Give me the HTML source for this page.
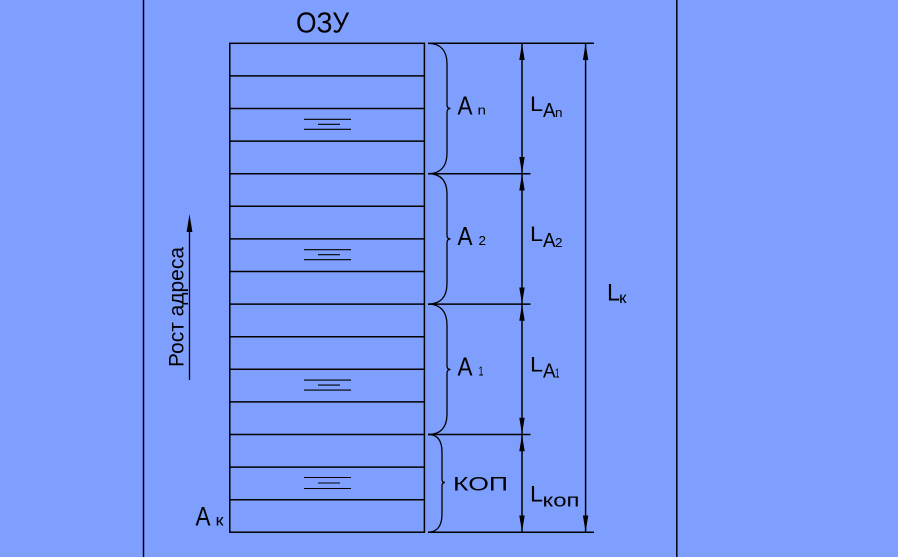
<!DOCTYPE html>
<html><head><meta charset="utf-8"><style>
html,body{margin:0;padding:0;background:#7f9ffe;}
svg{display:block;}
text{font-family:"Liberation Sans","DejaVu Sans",sans-serif;fill:#000;}
</style></head><body>
<svg width="898" height="557" viewBox="0 0 898 557" xmlns="http://www.w3.org/2000/svg">
<rect width="898" height="557" fill="#7f9ffe"/>
<!-- page vertical lines -->
<line x1="143.5" y1="0" x2="143.5" y2="557" stroke="#000010" stroke-width="1.5"/>
<line x1="676.8" y1="0" x2="676.8" y2="557" stroke="#000010" stroke-width="1.5"/>

<!-- memory box -->
<g stroke="#000" stroke-width="1.5" fill="none">
<rect x="229.8" y="43.3" width="194.6" height="488.9"/>
<line x1="229.8" y1="75.9" x2="424.4" y2="75.9"/>
<line x1="229.8" y1="108.5" x2="424.4" y2="108.5"/>
<line x1="229.8" y1="141.1" x2="424.4" y2="141.1"/>
<line x1="229.8" y1="173.7" x2="424.4" y2="173.7"/>
<line x1="229.8" y1="206.3" x2="424.4" y2="206.3"/>
<line x1="229.8" y1="238.9" x2="424.4" y2="238.9"/>
<line x1="229.8" y1="271.5" x2="424.4" y2="271.5"/>
<line x1="229.8" y1="304.1" x2="424.4" y2="304.1"/>
<line x1="229.8" y1="336.7" x2="424.4" y2="336.7"/>
<line x1="229.8" y1="369.3" x2="424.4" y2="369.3"/>
<line x1="229.8" y1="401.9" x2="424.4" y2="401.9"/>
<line x1="229.8" y1="434.5" x2="424.4" y2="434.5"/>
<line x1="229.8" y1="467.1" x2="424.4" y2="467.1"/>
<line x1="229.8" y1="499.7" x2="424.4" y2="499.7"/>
</g>

<!-- equal marks -->
<g stroke="#000" stroke-width="1.1">
<line x1="304" y1="119.3" x2="351" y2="119.3"/><line x1="318" y1="124.3" x2="340" y2="124.3"/><line x1="304" y1="129.3" x2="351" y2="129.3"/>
<line x1="304" y1="249.7" x2="351" y2="249.7"/><line x1="318" y1="254.7" x2="340" y2="254.7"/><line x1="304" y1="259.7" x2="351" y2="259.7"/>
<line x1="304" y1="380.1" x2="351" y2="380.1"/><line x1="318" y1="385.1" x2="340" y2="385.1"/><line x1="304" y1="390.1" x2="351" y2="390.1"/>
<line x1="304" y1="477.5" x2="351" y2="477.5"/><line x1="318" y1="483" x2="340" y2="483"/><line x1="304" y1="488.5" x2="351" y2="488.5"/>
</g>

<!-- extension lines -->
<g stroke="#000" stroke-width="1.5">
<line x1="428" y1="43.3" x2="594" y2="43.3"/>
<line x1="428" y1="173.7" x2="530.5" y2="173.7"/>
<line x1="428" y1="304.1" x2="530.5" y2="304.1"/>
<line x1="428" y1="434.5" x2="530.5" y2="434.5"/>
<line x1="428" y1="532.2" x2="594" y2="532.2"/>
<!-- dimension lines -->
<line x1="522" y1="43.3" x2="522" y2="532.2"/>
<line x1="585.6" y1="43.3" x2="585.6" y2="532.2"/>
</g>

<!-- braces -->
<g stroke="#000" stroke-width="1.3" fill="none">
<path d="M428,43.3 C440,43.3 447,50 447,64 L447,105 Q447,108.5 450.5,108.5 Q447,108.5 447,112 L447,153 C447,167 440,173.7 428,173.7"/>
<path d="M428,173.7 C440,173.7 447,180 447,194 L447,235.5 Q447,239 450.5,239 Q447,239 447,242.5 L447,283.5 C447,297.5 440,304.1 428,304.1"/>
<path d="M428,304.1 C440,304.1 447,311 447,325 L447,366 Q447,369.5 450.5,369.5 Q447,369.5 447,373 L447,414 C447,428 440,434.5 428,434.5"/>
<path d="M428,434.5 C437,434.5 442,440 442,452 L442,479.5 Q442,482.5 445,482.5 Q442,482.5 442,485.5 L442,514 C442,526 437,532.2 428,532.2"/>
</g>

<!-- arrowheads -->
<g fill="#000">
<polygon points="522,43.5 519.3,60 524.7,60"/>
<polygon points="522,173.5 519.3,157 524.7,157"/>
<polygon points="522,174 519.3,190.5 524.7,190.5"/>
<polygon points="522,304 519.3,287.5 524.7,287.5"/>
<polygon points="522,304.3 519.3,320.8 524.7,320.8"/>
<polygon points="522,434.3 519.3,417.8 524.7,417.8"/>
<polygon points="522,434.7 519.3,451.2 524.7,451.2"/>
<polygon points="522,532 519.3,515.5 524.7,515.5"/>
<polygon points="585.6,43.5 582.9,60 588.3,60"/>
<polygon points="585.6,532 582.9,515.5 588.3,515.5"/>
<!-- Рост адреса arrow -->
<polygon points="189.5,214 186.6,232 192.4,232"/>
</g>
<line x1="189.5" y1="228" x2="189.5" y2="380" stroke="#000" stroke-width="1.3"/>

<!-- texts -->
<text x="296" y="32.3" font-size="29" textLength="53" lengthAdjust="spacingAndGlyphs">ОЗУ</text>

<text transform="translate(183.5,367) rotate(-90)" font-size="21.5" textLength="120" lengthAdjust="spacingAndGlyphs">Рост адреса</text>

<text x="457.5" y="114.3" font-size="26" textLength="15" lengthAdjust="spacingAndGlyphs">A</text>
<text x="477.5" y="114.3" font-size="13" textLength="8.5" lengthAdjust="spacingAndGlyphs">n</text>

<text x="457.5" y="245" font-size="26" textLength="15" lengthAdjust="spacingAndGlyphs">A</text>
<text x="478.5" y="245" font-size="12.5" textLength="7.5" lengthAdjust="spacingAndGlyphs">2</text>

<text x="457.5" y="375.7" font-size="26" textLength="15" lengthAdjust="spacingAndGlyphs">A</text>
<text x="478.5" y="375.7" font-size="12.5" textLength="5" lengthAdjust="spacingAndGlyphs">1</text>

<text x="453" y="490.7" font-size="19.5" textLength="55" lengthAdjust="spacingAndGlyphs">КОП</text>

<text x="195.5" y="525.7" font-size="27" textLength="15" lengthAdjust="spacingAndGlyphs">A</text>
<text x="215.5" y="525.7" font-size="16" textLength="8" lengthAdjust="spacingAndGlyphs">к</text>

<text x="530" y="111" font-size="21" textLength="13" lengthAdjust="spacingAndGlyphs">L</text>
<text x="543" y="117" font-size="20" textLength="12.5" lengthAdjust="spacingAndGlyphs">A</text>
<text x="555" y="117" font-size="13" textLength="7.5" lengthAdjust="spacingAndGlyphs">n</text>

<text x="530" y="241" font-size="21" textLength="13" lengthAdjust="spacingAndGlyphs">L</text>
<text x="543" y="247" font-size="20" textLength="12.5" lengthAdjust="spacingAndGlyphs">A</text>
<text x="555" y="247" font-size="12.5" textLength="7.5" lengthAdjust="spacingAndGlyphs">2</text>

<text x="530" y="371.5" font-size="21" textLength="13" lengthAdjust="spacingAndGlyphs">L</text>
<text x="543" y="377.5" font-size="20" textLength="12.5" lengthAdjust="spacingAndGlyphs">A</text>
<text x="555" y="377.5" font-size="12.5" textLength="4.5" lengthAdjust="spacingAndGlyphs">1</text>

<text x="530" y="501.7" font-size="22" textLength="13" lengthAdjust="spacingAndGlyphs">L</text>
<text x="542.5" y="506.7" font-size="18" textLength="37" lengthAdjust="spacingAndGlyphs">коп</text>

<text x="607" y="300.7" font-size="24" textLength="13" lengthAdjust="spacingAndGlyphs">L</text>
<text x="619" y="303" font-size="16" textLength="7.5" lengthAdjust="spacingAndGlyphs">к</text>
</svg>
</body></html>
